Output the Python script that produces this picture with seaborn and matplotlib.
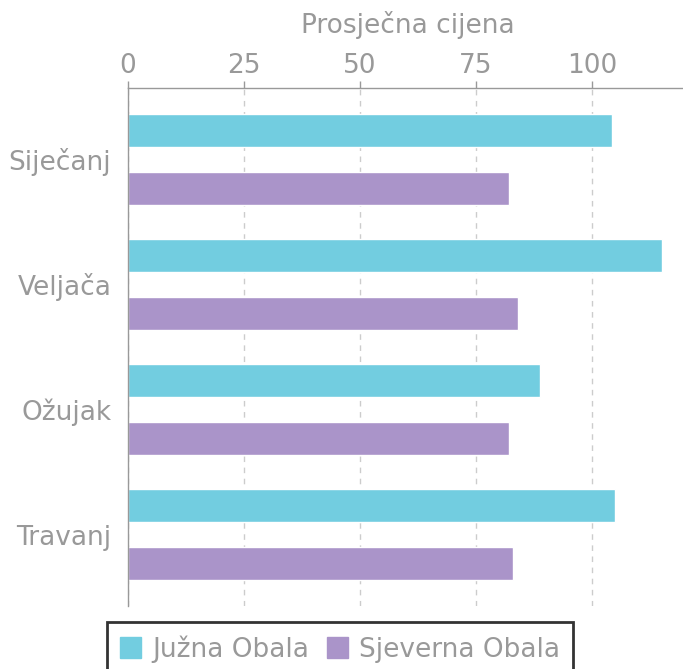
import numpy as np
import pandas as pd
import matplotlib
matplotlib.use("Agg")
import matplotlib.pyplot as plt
import seaborn as sns

months = ["Siječanj", "Veljača", "Ožujak", "Travanj"]
juzna = [104.3, 115.1, 88.8, 105.0]
sjeverna = [82.1, 84.0, 82.1, 83.0]
series = ["Južna Obala", "Sjeverna Obala"]
colors = ["#72CDE0", "#AA94C9"]

df = pd.DataFrame({
    "mjesec": months * 2,
    "cijena": juzna + sjeverna,
    "obala": [series[0]] * 4 + [series[1]] * 4,
})

sns.set_style("white")
plt.rcParams["font.family"] = ["DejaVu Sans"]
TXT = "#999999"
FS = 19

fig = plt.figure(figsize=(6.83, 6.69), dpi=100)
ax = fig.add_axes([128 / 683, 1 - 606 / 669, 560 / 683, 518 / 669])

sns.barplot(data=df, y="mjesec", x="cijena", hue="obala", orient="h",
            palette=colors, width=0.928, gap=0.43, ax=ax, legend=False,
            saturation=1)

ax.set_xlim(0, 120.7)
ax.set_ylim(3.57, -0.57)
ax.xaxis.tick_top()
ax.xaxis.set_label_position("top")
ax.set_xticks([0, 25, 50, 75, 100])
ax.set_xlabel("Prosječna cijena", color=TXT, fontsize=FS, labelpad=14.5)
ax.set_ylabel("")
ax.tick_params(axis="both", colors="#999999", labelcolor=TXT, labelsize=FS,
               length=5, width=1)
ax.tick_params(axis="x", pad=1.5)
ax.tick_params(axis="y", pad=7)
ax.grid(axis="x", color="#cccccc", linestyle=(0, (4, 4)), linewidth=1)
ax.set_axisbelow(True)
for side in ["right", "bottom"]:
    ax.spines[side].set_visible(False)
for side in ["top", "left"]:
    ax.spines[side].set_color("#999999")
    ax.spines[side].set_linewidth(1)

handles = [plt.Rectangle((0, 0), 1, 1, color=c) for c in colors]
leg = fig.legend(handles, series, loc="upper center",
                 bbox_to_anchor=(340 / 683, 1 - 622 / 669), ncol=2,
                 fontsize=FS, frameon=True, fancybox=False,
                 handlelength=0.8, handleheight=0.8, handletextpad=0.4,
                 columnspacing=0.7, borderpad=0.5, borderaxespad=0)
leg.get_frame().set_edgecolor("black")
leg.get_frame().set_linewidth(2)
for t in leg.get_texts():
    t.set_color(TXT)

fig.savefig("out.png", dpi=100)
